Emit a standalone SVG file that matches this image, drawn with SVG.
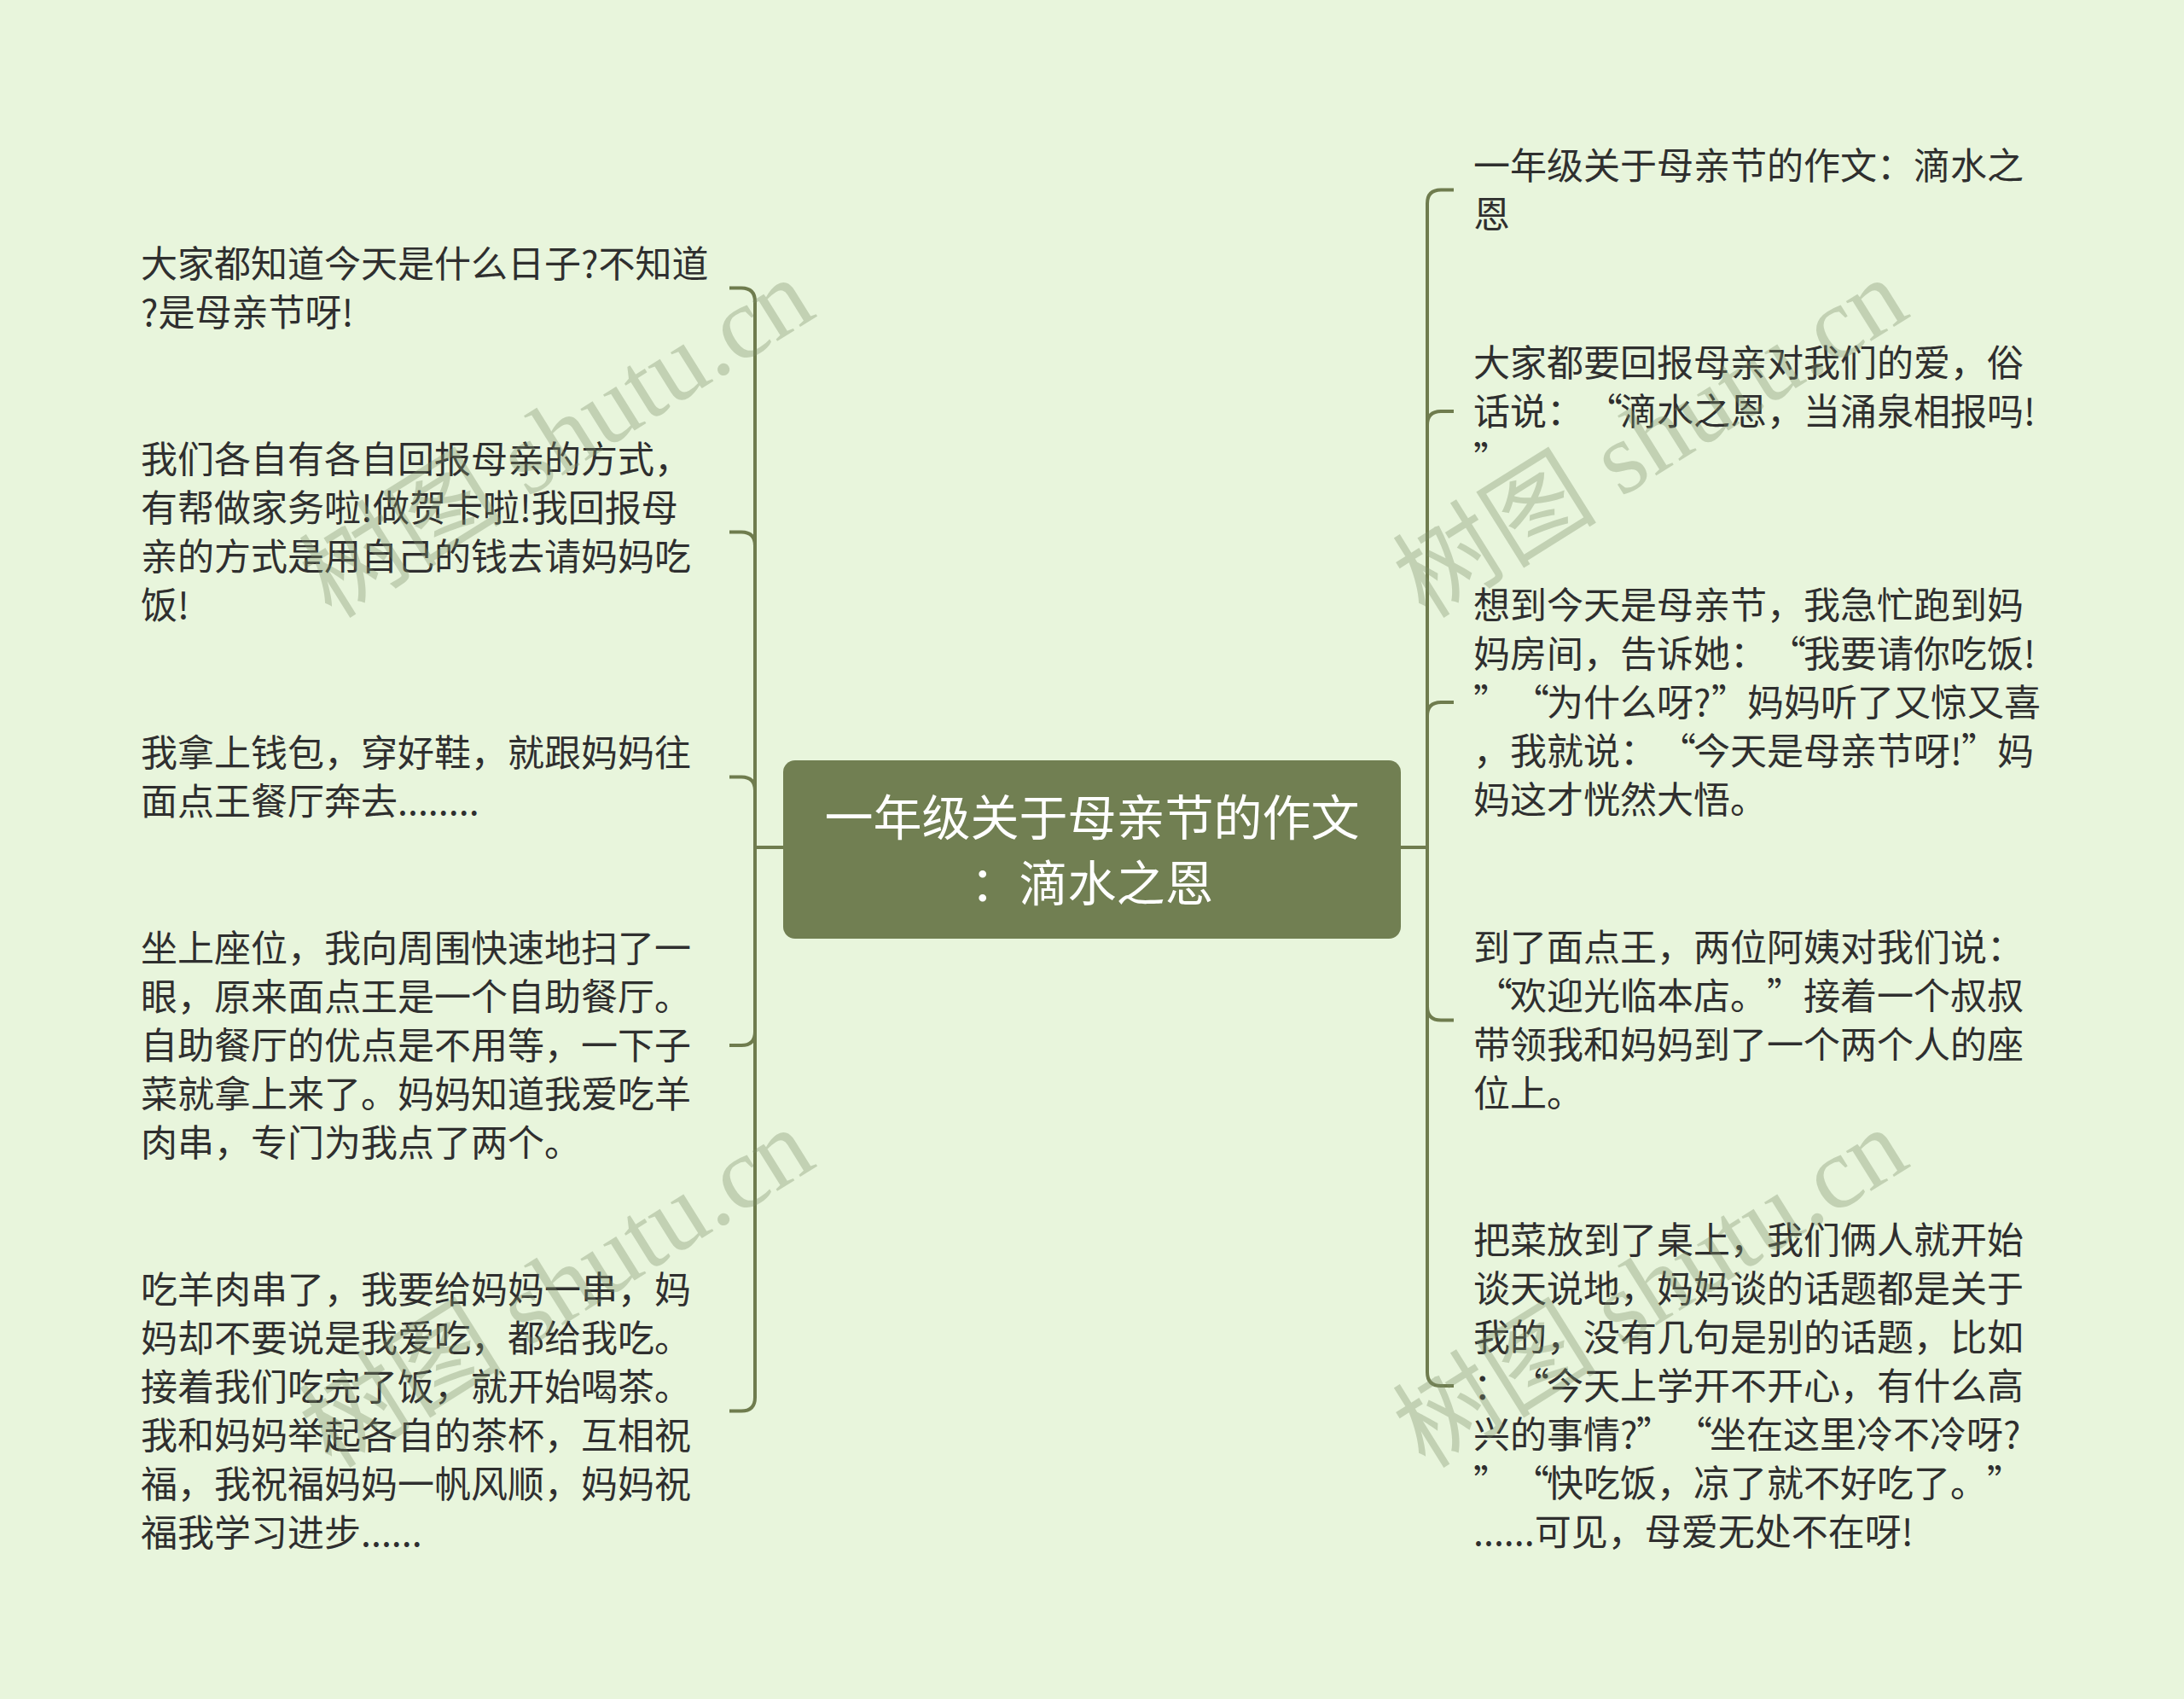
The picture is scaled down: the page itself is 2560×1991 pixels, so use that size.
<svg xmlns="http://www.w3.org/2000/svg" width="2560" height="1991" viewBox="0 0 2560 1991">
<defs>
<style>
.bg{fill:#e8f5dc}
.conn{fill:none;stroke:#6f7c4e;stroke-width:4}
.root-box{fill:#717f52}
.root-text{font-family:"Noto Sans CJK SC","Noto Sans",sans-serif;font-size:57px;fill:#ffffff;text-anchor:middle}
.leaf{font-family:"Noto Sans CJK SC","Noto Sans",sans-serif;font-size:43px;fill:#2f2f2f}
.wm{font-family:"Liberation Serif","Noto Sans CJK SC",serif;font-size:120px;fill:#7d8f6a;opacity:0.35;text-anchor:middle}
</style>
</defs>
<rect class="bg" x="0" y="0" width="2560" height="1991"/>

<g id="connectors">
<path class="conn" d="M918 993 H885 V353.5 Q885 337.5 869 337.5 H855"/>
<path class="conn" d="M918 993 H885 V639.5 Q885 623.5 869 623.5 H855"/>
<path class="conn" d="M918 993 H885 V926.5 Q885 910.5 869 910.5 H855"/>
<path class="conn" d="M918 993 H885 V1209 Q885 1225 869 1225 H855"/>
<path class="conn" d="M918 993 H885 V1637.5 Q885 1653.5 869 1653.5 H855"/>
<path class="conn" d="M1642 993 H1673 V238.5 Q1673 222.5 1689 222.5 H1704"/>
<path class="conn" d="M1642 993 H1673 V498 Q1673 482 1689 482 H1704"/>
<path class="conn" d="M1642 993 H1673 V839 Q1673 823 1689 823 H1704"/>
<path class="conn" d="M1642 993 H1673 V1179.5 Q1673 1195.5 1689 1195.5 H1704"/>
<path class="conn" d="M1642 993 H1673 V1608 Q1673 1624 1689 1624 H1704"/>
</g>

<g id="root">
<rect class="root-box" x="918" y="891" width="724" height="209" rx="14" ry="14"/>
<text class="root-text"><tspan x="1280" y="979">一年级关于母亲节的作文</tspan><tspan x="1280" y="1056">：滴水之恩</tspan></text>
</g>

<g id="node-l1">
<text class="leaf"><tspan x="165" y="325">大家都知道今天是什么日子?不知道</tspan><tspan x="165" dy="57">?是母亲节呀!</tspan></text>
</g>
<g id="node-l2">
<text class="leaf"><tspan x="165" y="554">我们各自有各自回报母亲的方式，</tspan><tspan x="165" dy="57">有帮做家务啦!做贺卡啦!我回报母</tspan><tspan x="165" dy="57">亲的方式是用自己的钱去请妈妈吃</tspan><tspan x="165" dy="57">饭!</tspan></text>
</g>
<g id="node-l3">
<text class="leaf"><tspan x="165" y="898">我拿上钱包，穿好鞋，就跟妈妈往</tspan><tspan x="165" dy="57">面点王餐厅奔去........</tspan></text>
</g>
<g id="node-l4">
<text class="leaf"><tspan x="165" y="1127">坐上座位，我向周围快速地扫了一</tspan><tspan x="165" dy="57">眼，原来面点王是一个自助餐厅。</tspan><tspan x="165" dy="57">自助餐厅的优点是不用等，一下子</tspan><tspan x="165" dy="57">菜就拿上来了。妈妈知道我爱吃羊</tspan><tspan x="165" dy="57">肉串，专门为我点了两个。</tspan></text>
</g>
<g id="node-l5">
<text class="leaf"><tspan x="165" y="1527">吃羊肉串了，我要给妈妈一串，妈</tspan><tspan x="165" dy="57">妈却不要说是我爱吃，都给我吃。</tspan><tspan x="165" dy="57">接着我们吃完了饭，就开始喝茶。</tspan><tspan x="165" dy="57">我和妈妈举起各自的茶杯，互相祝</tspan><tspan x="165" dy="57">福，我祝福妈妈一帆风顺，妈妈祝</tspan><tspan x="165" dy="57">福我学习进步......</tspan></text>
</g>

<g id="node-r1">
<text class="leaf"><tspan x="1727" y="210">一年级关于母亲节的作文：滴水之</tspan><tspan x="1727" dy="57">恩</tspan></text>
</g>
<g id="node-r2">
<text class="leaf"><tspan x="1727" y="441">大家都要回报母亲对我们的爱，俗</tspan><tspan x="1727" dy="57">话说：<tspan x="1859">“</tspan><tspan x="1899">滴水之恩，当涌泉相报吗!</tspan></tspan><tspan x="1727" dy="57">”</tspan></text>
</g>
<g id="node-r3">
<text class="leaf"><tspan x="1727" y="725">想到今天是母亲节，我急忙跑到妈</tspan><tspan x="1727" dy="57">妈房间，告诉她：<tspan x="2074">“</tspan><tspan x="2114">我要请你吃饭!</tspan></tspan><tspan x="1727" dy="57">”<tspan x="1773">“</tspan><tspan x="1813">为什么呀?</tspan><tspan x="2006">”</tspan><tspan x="2048">妈妈听了又惊又喜</tspan></tspan><tspan x="1727" dy="57">，我就说：<tspan x="1945">“</tspan><tspan x="1985">今天是母亲节呀!</tspan><tspan x="2299">”</tspan><tspan x="2341">妈</tspan></tspan><tspan x="1727" dy="57">妈这才恍然大悟。</tspan></text>
</g>
<g id="node-r4">
<text class="leaf"><tspan x="1727" y="1126">到了面点王，两位阿姨对我们说：</tspan><tspan x="1727" dy="57"><tspan x="1730">“</tspan><tspan x="1770">欢迎光临本店。</tspan><tspan x="2071">”</tspan><tspan x="2114">接着一个叔叔</tspan></tspan><tspan x="1727" dy="57">带领我和妈妈到了一个两个人的座</tspan><tspan x="1727" dy="57">位上。</tspan></text>
</g>
<g id="node-r5">
<text class="leaf"><tspan x="1727" y="1469">把菜放到了桌上，我们俩人就开始</tspan><tspan x="1727" dy="57">谈天说地，妈妈谈的话题都是关于</tspan><tspan x="1727" dy="57">我的，没有几句是别的话题，比如</tspan><tspan x="1727" dy="57">：<tspan x="1773">“</tspan><tspan x="1813">今天上学开不开心，有什么高</tspan></tspan><tspan x="1727" dy="57">兴的事情?<tspan x="1918">”</tspan><tspan x="1964">“</tspan><tspan x="2004">坐在这里冷不冷呀?</tspan></tspan><tspan x="1727" dy="57">”<tspan x="1773">“</tspan><tspan x="1813">快吃饭，凉了就不好吃了。</tspan><tspan x="2329">”</tspan></tspan><tspan x="1727" dy="57">......可见，母爱无处不在呀!</tspan></text>
</g>

<g id="watermarks">
<text class="wm" transform="translate(653 514) rotate(-32)" x="0" y="40">树图 shutu.cn</text>
<text class="wm" transform="translate(1935 514) rotate(-32)" x="0" y="40">树图 shutu.cn</text>
<text class="wm" transform="translate(653 1510) rotate(-32)" x="0" y="40">树图 shutu.cn</text>
<text class="wm" transform="translate(1935 1510) rotate(-32)" x="0" y="40">树图 shutu.cn</text>
</g>
</svg>
